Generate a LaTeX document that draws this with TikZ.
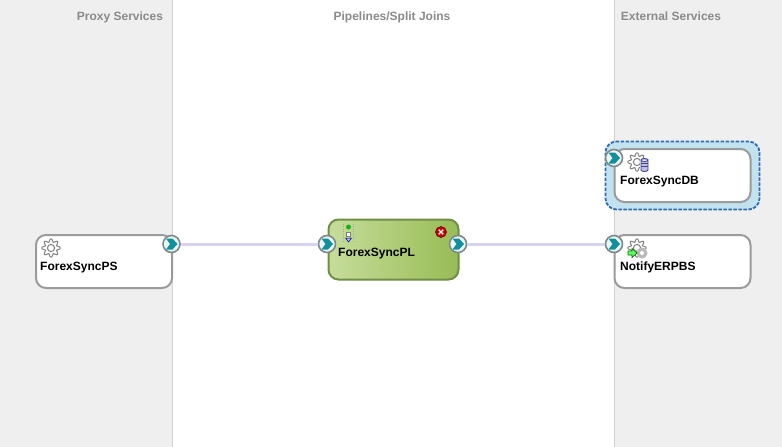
\documentclass[tikz,border=0pt]{standalone}
\usepackage{fontspec}
\setmainfont{Liberation Sans}
\definecolor{panelgrey}{HTML}{EFEFEF}
\definecolor{panelline}{HTML}{D2D2D2}
\definecolor{headgrey}{HTML}{8A8A8A}
\definecolor{boxgrey}{HTML}{9B9B9B}
\definecolor{wirelilac}{HTML}{D6D4F0}
\definecolor{portteal}{HTML}{10909C}
\definecolor{portrim}{HTML}{7C8C8C}
\definecolor{gearline}{HTML}{808080}
\definecolor{selectfill}{HTML}{C2E2EF}
\definecolor{selectline}{HTML}{2E6DB4}
\definecolor{plline}{HTML}{6F8F47}
\definecolor{plleft}{HTML}{C6DD9A}
\definecolor{plright}{HTML}{98BC56}
\tikzset{
  panelhead/.style={
    anchor=base,
    font=\bfseries\fontsize{12}{14}\selectfont,
    text=headgrey
  },
  service/.style={
    draw=boxgrey,
    line width=2pt,
    fill=white,
    rounded corners=10pt,
    minimum width=136pt,
    minimum height=53pt,
    inner sep=0pt
  },
  pipeline/.style={
    service,
    draw=plline,
    left color=plleft,
    right color=plright,
    minimum width=130pt,
    minimum height=60pt
  },
  compname/.style={
    anchor=base west,
    inner sep=0pt,
    font=\bfseries\fontsize{12}{14}\selectfont
  },
  port/.style={
    circle,
    draw=portrim,
    line width=1.6pt,
    fill=white!92!teal,
    minimum size=17pt,
    inner sep=0pt,
    path picture={
      \fill[portteal] (path picture bounding box.center) ++(-5.5,-5.5) -- ++(6.5,0) -- ++(5,5.5) -- ++(-5,5.5) -- ++(-6.5,0) -- ++(4,-5.5) -- cycle;
    }
  },
  wire/.style={
    draw=wirelilac,
    line width=3pt
  },
  pics/gear/.style={
    code={
      \draw[gearline, line width=1pt, fill=white] plot[domain=0:360, samples=97, variable=\t] ({(7.6+1.6*cos(8*\t))*cos(\t)}, {(7.6+1.6*cos(8*\t))*sin(\t)}) -- cycle;
      \draw[gearline, line width=1pt, fill=white] (0,0) circle (3.6);
    }
  }
}
\begin{document}
\begin{tikzpicture}[x=1pt,y=-1pt]
  \path[use as bounding box, fill=panelgrey] (0,0) rectangle (782,447);
  \fill[white] (172,0) rectangle (614,447);
  \draw[panelline] (172.5,0) -- (172.5,447);
  \draw[panelline] (614.5,0) -- (614.5,447);

  % headers
  \node[panelhead] (proxyhead) at (120,20) {Proxy Services};
  \node[panelhead] (pipehead) at (392,20) {Pipelines/Split Joins};
  \node[panelhead] (exthead) at (671,20) {External Services};

  % selection round the db service
  \draw[selectline, fill=selectfill, line width=1.8pt, dash pattern=on 3.5pt off 1.5pt, rounded corners=11pt] (605.5,141.5) rectangle (759.5,209.5);

  % components
  \node[service] (forexps) at (104,261.5) {};
  \node[pipeline] (forexpl) at (393.5,249.5) {};
  \node[service] (forexdb) at (682.5,175.5) {};
  \node[service] (notifyerp) at (682.5,261.5) {};

  \node[compname] (psname) at (40,270) {ForexSyncPS};
  \node[compname] (plname) at (338,256) {ForexSyncPL};
  \node[compname] (dbname) at (620,184) {ForexSyncDB};
  \node[compname] (erpname) at (620,270) {NotifyERPBS};

  % ports
  \node[port] (psout) at (171.5,244) {};
  \node[port] (plin) at (327,244) {};
  \node[port] (plout) at (458,244) {};
  \node[port] (dbin) at (614,158) {};
  \node[port] (erpin) at (614,244) {};

  \draw[wire] (psout) -- (plin);
  \draw[wire] (plout) -- (erpin);

  % icons
  \pic at (51,248) {gear};
  \pic at (637,162) {gear};
  \pic at (637,248) {gear};

  % db drum
  \fill[white] (640,158) rectangle (649,172);
  \draw[black!30!blue!50!gray, fill=blue!25!gray!40, line width=.8pt] (641,160) -- (641,170) arc[start angle=180, end angle=360, x radius=3.5, y radius=-1.5] -- (648,160) arc[start angle=0, end angle=360, x radius=3.5, y radius=1.5];
  \draw[black!30!blue!50!gray, line width=.6pt] (641,163.5) -- (648,163.5) (641,166.5) -- (648,166.5);

  % erp arrow and small gear
  \fill[gray!55] (642,253) circle (5.5);
  \fill[white] (642,253) circle (2);
  \draw[green!45!black, fill=green!60!white, line width=.7pt] (628,251) -- (632,251) -- (632,248.5) -- (637,253) -- (632,257.5) -- (632,255) -- (628,255) -- cycle;

  % pipeline marks
  \draw[gray!70, dotted] (343.5,224) -- (343.5,242) (353.5,224) -- (353.5,242);
  \fill[green!65!black!90!white] (348.5,227) circle (2.5);
  \draw[gray, fill=white, line width=.5pt] (346.5,232) rectangle (350.5,236);
  \draw[blue!50!black, fill=blue!30!white, line width=.5pt] (345.5,238) -- (351.5,238) -- (348.5,242) -- cycle;
  \node[circle, fill=red!75!black, draw=red!35!black, line width=.5pt, minimum size=11pt, inner sep=0pt] (plerror) at (441,232) {};
  \draw[white, line width=1.4pt] (438.7,229.7) -- (443.3,234.3) (438.7,234.3) -- (443.3,229.7);
\end{tikzpicture}
\end{document}
